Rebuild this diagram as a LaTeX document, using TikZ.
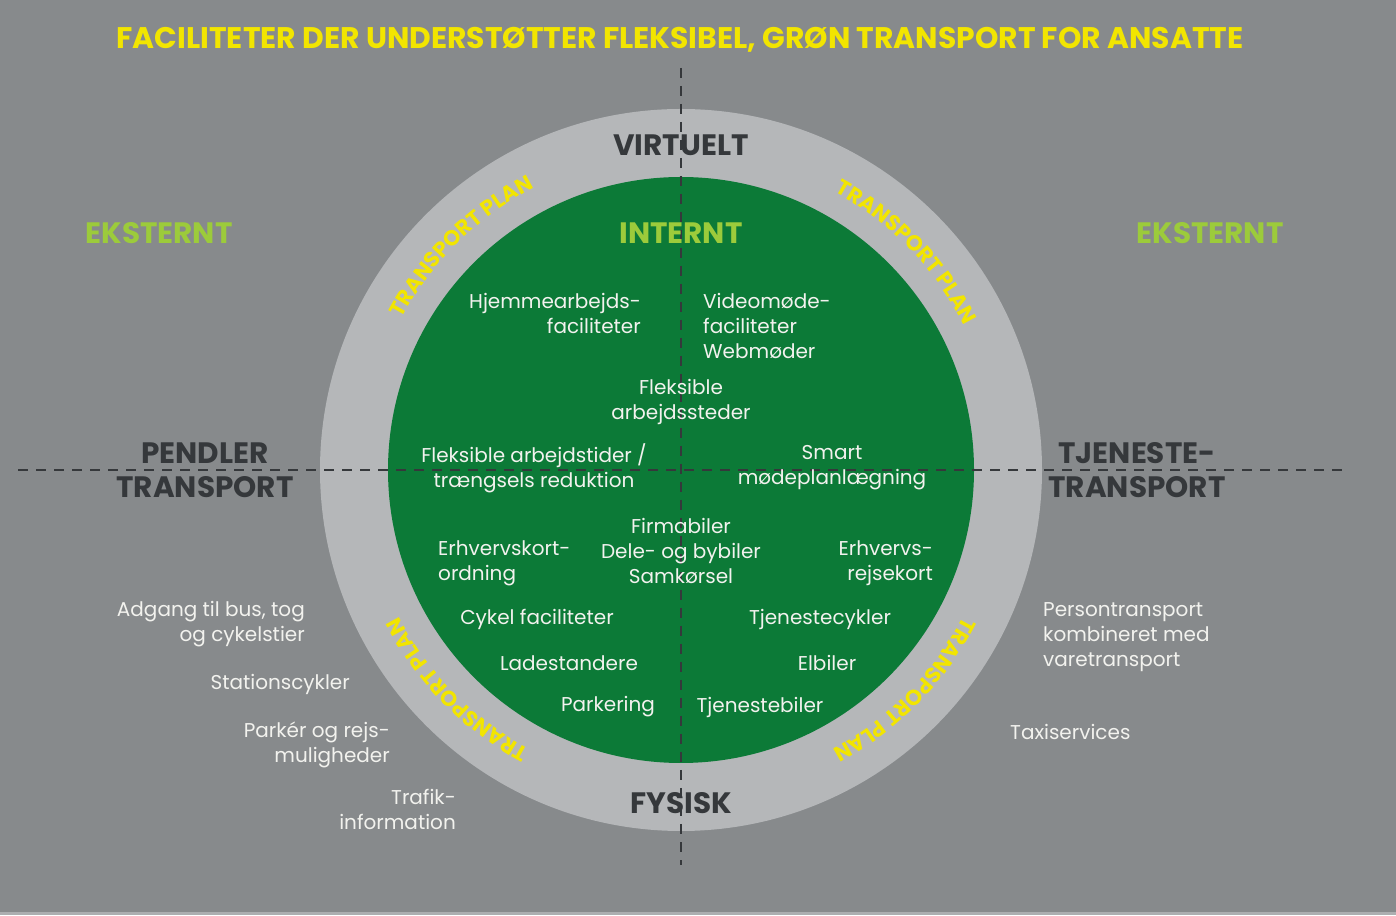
\documentclass[tikz,border=0pt]{standalone}
\usepackage{fontspec}
\setmainfont{Poppins}
\usetikzlibrary{decorations.text,calc}
\definecolor{bggray}{HTML}{878A8C}
\definecolor{ringgray}{HTML}{B5B7B9}
\definecolor{circgreen}{HTML}{0C7A37}
\definecolor{darktext}{HTML}{35383B}
\definecolor{titleyellow}{HTML}{F2E500}
\definecolor{lightgreen}{HTML}{9CCB3B}
\definecolor{softwhite}{HTML}{F2F2EE}
\newcommand{\bodyfont}{\fontsize{20}{25}\selectfont}
\newcommand{\headfont}{\fontsize{29.5}{34}\selectfont\bfseries}
\newcommand{\arcfont}{\fontsize{21.5}{24}\selectfont\bfseries}
\tikzset{
  x=1pt, y=1pt,
  bodytext/.style={font=\bodyfont, text=softwhite, inner sep=0pt},
  headtext/.style={font=\headfont, text=darktext, inner sep=0pt, align=center},
  greenhead/.style={font=\headfont, text=lightgreen, inner sep=0pt},
  guide/.style={draw=darktext, line width=2pt, dash pattern=on 10pt off 8pt},
  arclabel/.style={decorate, decoration={text along path, text align=center,
      text color=titleyellow, text={|\arcfont|TRANSPORT PLAN}}},
}
\begin{document}
\begin{tikzpicture}
\useasboundingbox (0,0) rectangle (1396,915);
\fill[bggray] (0,0) rectangle (1396,915);
\fill[ringgray!80!bggray] (0,0) rectangle (1396,3);
\coordinate (C) at (681,445);
\fill[ringgray] (C) circle[radius=361];
\fill[circgreen] (C) circle[radius=293];
% transport plan arcs
\path[arclabel] ($(C)+(159.5:318)$) arc[start angle=159.5, end angle=109.5, radius=318];
\path[arclabel] ($(C)+(69:318)$) arc[start angle=69, end angle=19, radius=318];
\path[arclabel] ($(C)+(249.5:318)$) arc[start angle=249.5, end angle=199.5, radius=318];
\path[arclabel] ($(C)+(340.5:318)$) arc[start angle=340.5, end angle=290.5, radius=318];
% guide lines
\coordinate (hl) at (18,445);
\coordinate (hr) at (1342,445);
\coordinate (vt) at (681,847);
\coordinate (vb) at (681,50);
\draw[guide] (hl) -- (hr);
\draw[guide] (vt) -- (vb);
% title
\node[font=\fontsize{29.8}{32}\selectfont\bfseries, text=titleyellow, inner sep=0pt] (title) at (680,875)
  {FACILITETER DER UNDERSTØTTER FLEKSIBEL, GRØN TRANSPORT FOR ANSATTE};
% headings
\node[headtext] (virt) at (681,770) {VIRTUELT};
\node[headtext] (fys) at (681,112) {FYSISK};
\node[headtext] (pend) at (205,445) {PENDLER\\TRANSPORT};
\node[headtext] (tjen) at (1137,445) {TJENESTE-\\TRANSPORT};
\node[greenhead] (intern) at (681,682) {INTERNT};
\node[greenhead] (ekstL) at (159,682) {EKSTERNT};
\node[greenhead] (ekstR) at (1210,682) {EKSTERNT};
% inner texts
\node[bodytext, align=right, anchor=east] (hjem) at (641,602) {Hjemmearbejds-\\faciliteter};
\node[bodytext, align=left, anchor=west] (video) at (703,589) {Videomøde-\\faciliteter\\Webmøder};
\node[bodytext, align=center] (fleks) at (681,513.5) {Fleksible\\arbejdssteder};
\node[bodytext, align=center] (flekstid) at (534,447) {Fleksible arbejdstider /\\trængsels reduktion};
\node[bodytext, align=center] (smart) at (832,447) {Smart\\mødeplanlægning};
\node[bodytext, align=center] (firma) at (681,364) {Firmabiler\\Dele- og bybiler\\Samkørsel};
\node[bodytext, align=left, anchor=west] (erhk) at (438,351.5) {Erhvervskort-\\ordning};
\node[bodytext, align=right, anchor=east] (erhr) at (933,351.5) {Erhvervs-\\rejsekort};
\node[bodytext] (cykel) at (537,296) {Cykel faciliteter};
\node[bodytext] (tjcyk) at (820,296) {Tjenestecykler};
\node[bodytext] (lade) at (569,252) {Ladestandere};
\node[bodytext] (elbil) at (827,252) {Elbiler};
\node[bodytext] (park) at (608,208) {Parkering};
\node[bodytext] (tjbil) at (760,208) {Tjenestebiler};
% outer texts
\node[bodytext, align=right, anchor=east] (adgang) at (305,291) {Adgang til bus, tog\\og cykelstier};
\node[bodytext, anchor=east] (station) at (350,231) {Stationscykler};
\node[bodytext, align=right, anchor=east] (parker) at (390,170.5) {Parkér og rejs-\\muligheder};
\node[bodytext, align=right, anchor=east] (trafik) at (456,105.5) {Trafik-\\information};
\node[bodytext, align=left, anchor=west] (person) at (1043,278) {Persontransport\\kombineret med\\varetransport};
\node[bodytext, anchor=west] (taxi) at (1010,183) {Taxiservices};
\end{tikzpicture}
\end{document}
